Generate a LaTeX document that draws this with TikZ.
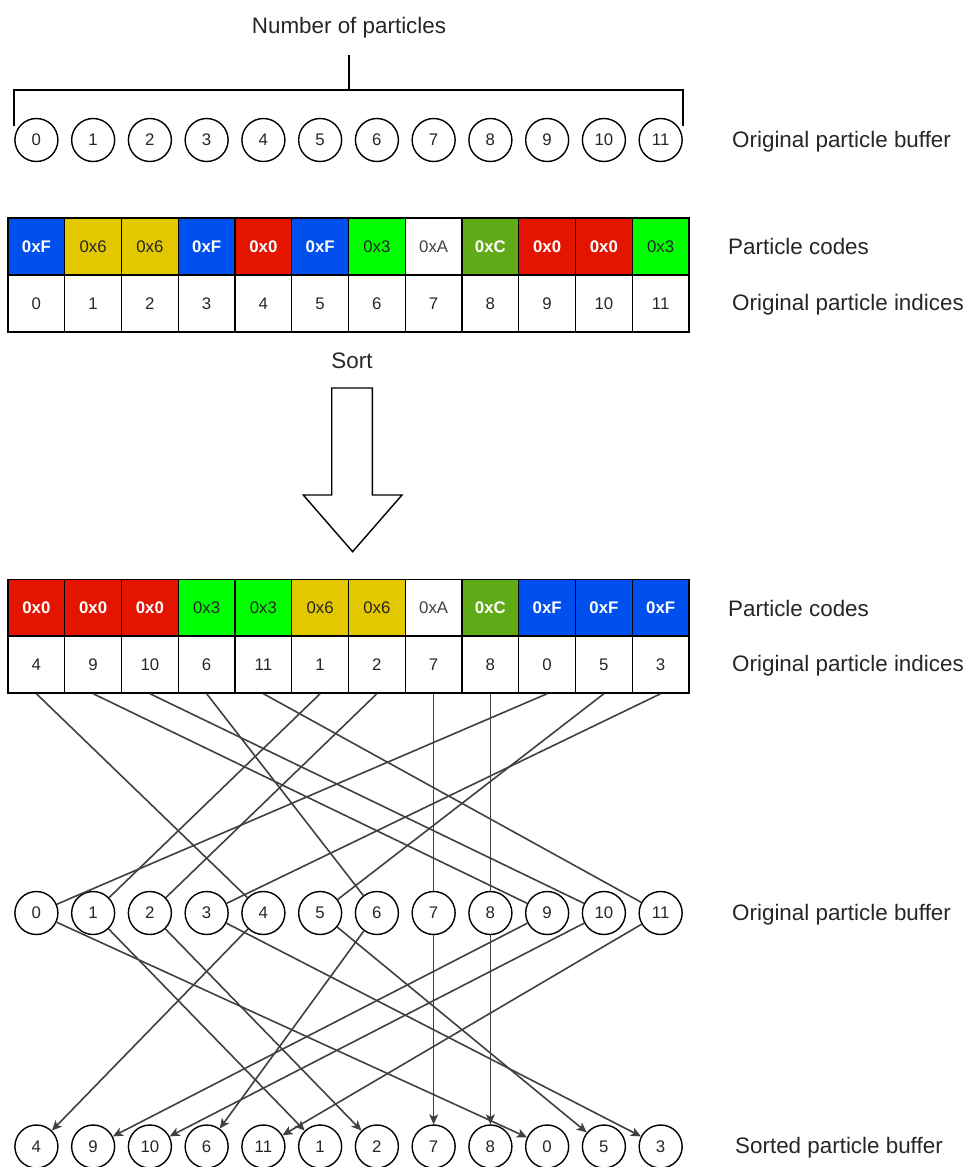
\documentclass[tikz,border=0pt]{standalone}
\usepackage{fontspec}
\setmainfont{Liberation Sans}
\usetikzlibrary{arrows.meta}
\definecolor{codeblue}{HTML}{0050EF}
\definecolor{codeyellow}{HTML}{E3C800}
\definecolor{codered}{HTML}{E51400}
\definecolor{codelime}{HTML}{00FF00}
\definecolor{codegreen}{HTML}{60A917}
\newcommand{\labelsize}{\fontsize{22.4}{26}\selectfont}
\newcommand{\cellsize}{\fontsize{16.8}{19}\selectfont}
\newcommand{\drawparticle}{\node[particle]}
\newcommand{\drawcell}{\node[cell]}
\newcommand{\drawlabel}{\node[rowlabel]}

\begin{document}
\begin{tikzpicture}[x=1pt, y=-1pt,
  particle/.style={draw, circle, line width=1.4pt, minimum size=43pt, inner sep=0pt, font=\cellsize, text=black!85},
  cell/.style={draw, rectangle, line width=1.4pt, minimum width=56.75pt, minimum height=57pt, inner sep=0pt, font=\cellsize, text=black!85},
  hex0/.style={fill=codered, text=white, font=\cellsize\bfseries},
  hex3/.style={fill=codelime, text=black!85},
  hex6/.style={fill=codeyellow, text=black!85},
  hexA/.style={fill=white, text=black!75},
  hexC/.style={fill=codegreen, text=white, font=\cellsize\bfseries},
  hexF/.style={fill=codeblue, text=white, font=\cellsize\bfseries},
  rowlabel/.style={anchor=west, inner sep=0pt, font=\labelsize, text=black!85},
  bracket/.style={line width=2.2pt},
  link/.style={line width=1.6pt, draw=black!75},
  move/.style={link, -{Stealth[length=10pt, width=9pt, inset=2.5pt]}}
]
\useasboundingbox (0,0) rectangle (969,1167);

%original buffer and its size
\foreach \i in {0,...,11}
  \drawparticle (orig\i) at ({36.4+56.75*\i},140) {\i};
\node[font=\labelsize, text=black!85] (count) at (349,28) {Number of particles};
\coordinate (brace) at (349,90);
\coordinate (stem) at (349,55);
\draw[bracket] ([yshift=14pt]orig0.west) |- (brace) -| ([yshift=14pt]orig11.east);
\draw[bracket] (brace) -- (stem);
\drawlabel (origlabel) at (732,141.5) {Original particle buffer};

%codes before sorting
\foreach \c [count=\i from 0] in {F,6,6,F,0,F,3,A,C,0,0,3} {
  \drawcell[hex\c] (codeA\i) at ({36.4+56.75*\i},246.5) {0x\c};
  \drawcell (idxA\i) at ({36.4+56.75*\i},303.5) {\i};
}
\drawlabel (codesA) at (728,246.5) {Particle codes};
\drawlabel (indicesA) at (732,304.5) {Original particle indices};

%sort step
\node[font=\labelsize, text=black!85] (sort) at (352,361) {Sort};
\draw[line width=1.4pt] (331.7,388) -- (372.3,388) -- (372.3,495) -- (402,495)
  -- (352.6,551.7) -- (303.3,495) -- (331.7,495) -- cycle;

%codes after sorting
\foreach \c/\v [count=\i from 0] in {0/4,0/9,0/10,3/6,3/11,6/1,6/2,A/7,C/8,F/0,F/5,F/3} {
  \drawcell[hex\c] (codeB\i) at ({36.4+56.75*\i},608) {0x\c};
  \drawcell (idxB\i) at ({36.4+56.75*\i},664.5) {\v};
}
\drawlabel (codesB) at (728,608) {Particle codes};
\drawlabel (indicesB) at (732,665.5) {Original particle indices};

%gather into sorted buffer
\foreach \i in {0,...,11}
  \drawparticle (mid\i) at ({36.4+56.75*\i},913) {\i};
\foreach \v [count=\i from 0] in {4,9,10,6,11,1,2,7,8,0,5,3}
  \drawparticle (sorted\v) at ({36.4+56.75*\i},1146.5) {\v};
\drawlabel (midlabel) at (732,914.5) {Original particle buffer};
\drawlabel (sortedlabel) at (735,1147.5) {Sorted particle buffer};

\foreach \v [count=\i from 0] in {4,9,10,6,11,1,2,7,8,0,5,3} {
  \draw[link] (idxB\i.south) -- (mid\v);
  \draw[move] (mid\v) -- (sorted\v);
}
\end{tikzpicture}
\end{document}
